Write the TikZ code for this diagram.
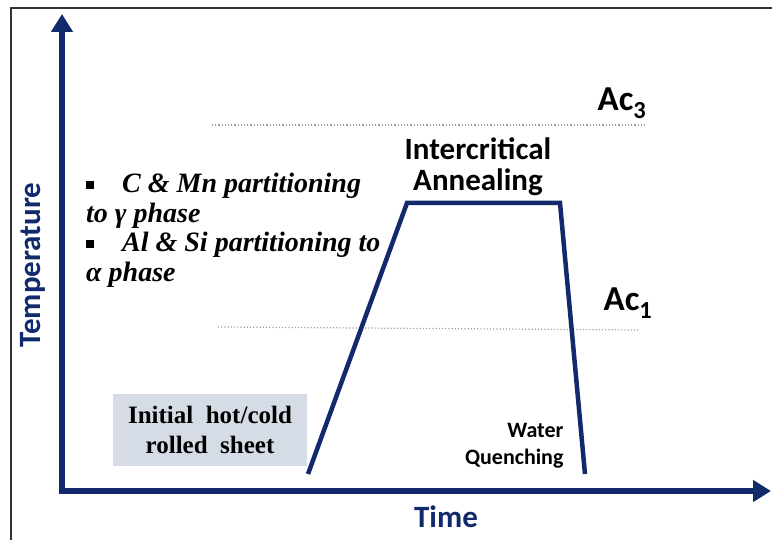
\documentclass[tikz,border=0pt]{standalone}
\usepackage{fontspec}
\setmainfont{Carlito}
\newfontfamily\timesfont{Liberation Serif}
\usepackage{tikz}
\usetikzlibrary{arrows.meta}
\definecolor{navy}{RGB}{18,42,107}
\definecolor{boxgray}{RGB}{214,220,229}
\newcommand{\sqbullet}{\raisebox{4pt}{\rule{8pt}{8pt}}}
\tikzset{
  axis/.style={navy, line width=5.5pt, -{Triangle[length=18pt,width=21pt]}},
  limit/.style={gray!75, dotted, line width=1.2pt},
  label/.style={font=\bfseries\fontsize{31}{31}\selectfont, align=center},
}

\begin{document}
\begin{tikzpicture}[x=1pt, y=-1pt]
\useasboundingbox (0,0) rectangle (772,540);
\draw[line width=1.2pt, black!80] (11,541) -- (11,8) -- (773,8);
\coordinate (o) at (62,491);
\coordinate (ytip) at (62,14);
\coordinate (xtip) at (771,491);
\draw[axis] (o) -- (ytip);
\draw[axis] ([xshift=-2.75pt]o) -- (xtip);
\node[label, navy, rotate=90] (temp) at (33,265) {Temperature};
\node[label, navy] (time) at (446,517) {Time};
\coordinate (a3l) at (212,125);
\coordinate (a3r) at (645,125);
\coordinate (a1l) at (218,327);
\coordinate (a1r) at (640,330);
\draw[limit] (a3l) -- (a3r);
\draw[limit] (a1l) -- (a1r);
\node[label, font=\bfseries\fontsize{35}{36}\selectfont] (ac3) at (622,103) {Ac\textsubscript{3}};
\node[label, font=\bfseries\fontsize{35}{36}\selectfont] (ac1) at (628,303) {Ac\textsubscript{1}};
\coordinate (start) at (308,474);
\coordinate (heat) at (407,203);
\coordinate (hold) at (560,203);
\coordinate (end) at (585,474);
\draw[navy, line width=4.5pt] (start) -- (heat) -- (hold) -- (end);
\node[label] (ia) at (478,167) {Intercritical\\Annealing};
\node[label, font=\bfseries\fontsize{22}{27}\selectfont, align=right, anchor=east] (wq) at (567,446) {Water\\Quenching};
\node[fill=boxgray, minimum width=194pt, minimum height=72pt, align=center,
  font=\timesfont\bfseries\fontsize{25}{30}\selectfont] (sheet) at (210,430) {Initial~~hot/cold\\rolled~~sheet};
% partitioning notes
\node[anchor=north west, align=left, inner sep=0pt,
  font=\timesfont\bfseries\itshape\fontsize{28}{29.5}\selectfont] (notes) at (86,173)
  {\sqbullet\quad C \& Mn partitioning\\to γ phase\\\sqbullet\quad Al \& Si partitioning to\\α phase};
\end{tikzpicture}
\end{document}
